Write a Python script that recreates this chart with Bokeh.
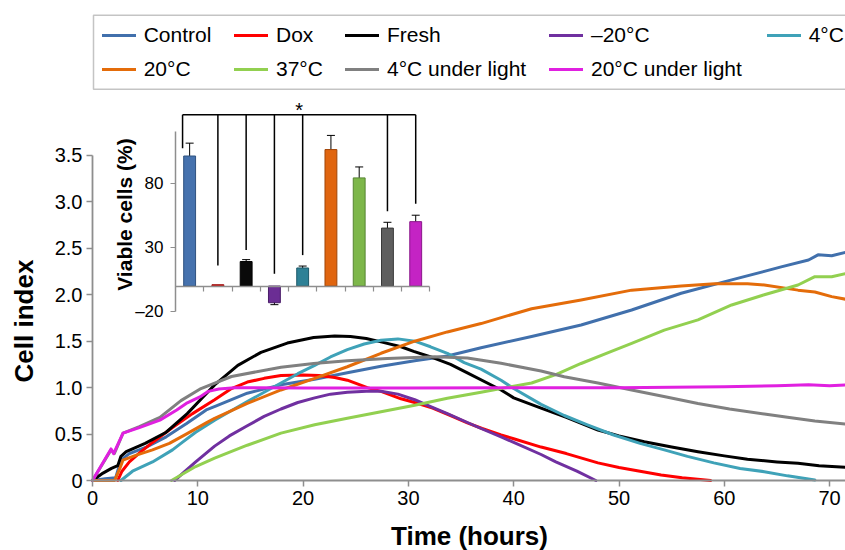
import math
from bokeh.plotting import figure
from bokeh.models import (Range1d, LinearAxis, FixedTicker, Legend, LegendItem, Label,
                          ColumnDataSource, Whisker, TeeHead, CustomJSTickFormatter,
                          BoxAnnotation)
from bokeh.embed import file_html
from bokeh.resources import INLINE

# ---------------- data ----------------
x_ticks = [0, 10, 20, 30, 40, 50, 60, 70]
y_ticks = [0, 0.5, 1.0, 1.5, 2.0, 2.5, 3.0, 3.5]

hours_control = [0, 1.2, 2.2, 2.7, 3.5, 5.1, 7.0, 8.9, 10.8, 11.7, 14.7, 17.9, 21.1, 24.2, 27.4, 30.6,
                 33.7, 36.9, 41.7, 46.4, 51.2, 55.9, 60.7, 65.4, 68.0, 68.9, 70.2, 71.6]
control = [0, 0.02, 0.03, 0.22, 0.29, 0.36, 0.47, 0.61, 0.76, 0.80, 0.94, 1.03, 1.09, 1.16, 1.23, 1.29,
           1.34, 1.43, 1.55, 1.675, 1.836, 2.016, 2.16, 2.30, 2.374, 2.43, 2.42, 2.46]

hours_dox = [2.4, 2.8, 3.5, 4.5, 5.7, 7.6, 9.5, 11.6, 13.2, 14.7, 16.3, 17.9, 20.0, 21.5, 23.0, 24.2,
             26.1, 27.4, 29.3, 30.6, 32.3, 34.0, 35.6, 37.0, 38.8, 40.0, 42.6, 45.0, 48.0, 50.0, 52.0,
             54.0, 56.0, 58.7]
dox = [0, 0.1, 0.2, 0.3, 0.41, 0.57, 0.72, 0.87, 0.99, 1.06, 1.10, 1.13, 1.135, 1.13, 1.11, 1.08,
       1.0, 0.96, 0.88, 0.84, 0.78, 0.70, 0.62, 0.56, 0.49, 0.45, 0.36, 0.29, 0.19, 0.14, 0.10,
       0.06, 0.03, 0]

hours_fresh = [0, 1.0, 1.8, 2.4, 2.7, 3.2, 5.0, 7.0, 9.0, 10.5, 11.6, 13.8, 16.0, 18.5, 21.0, 23.0,
               24.5, 26.0, 27.5, 29.3, 30.5, 32.5, 34.0, 35.6, 38.8, 40.0, 42.6, 45.0, 48.0, 50.0,
               52.4, 55.0, 57.5, 60.0, 62.2, 65.0, 67.0, 69.0, 71.6]
fresh = [0, 0.08, 0.13, 0.16, 0.26, 0.31, 0.40, 0.52, 0.72, 0.90, 1.03, 1.24, 1.38, 1.48, 1.54, 1.555,
         1.55, 1.53, 1.49, 1.44, 1.39, 1.316, 1.25, 1.16, 0.975, 0.89, 0.78, 0.68, 0.544, 0.48,
         0.418, 0.36, 0.31, 0.265, 0.228, 0.20, 0.185, 0.16, 0.142]

hours_m20 = [7.8, 9.8, 11.6, 13.0, 14.7, 16.3, 17.9, 19.5, 21.1, 22.6, 24.2, 26.0, 27.4, 29.0, 30.6,
             32.0, 33.7, 35.5, 36.9, 38.8, 40.0, 42.6, 44.0, 46.0, 47.8]
m20 = [0, 0.2, 0.37, 0.48, 0.59, 0.69, 0.77, 0.84, 0.89, 0.93, 0.95, 0.96, 0.96, 0.93, 0.87,
       0.80, 0.72, 0.63, 0.56, 0.47, 0.41, 0.28, 0.2, 0.1, 0]

hours_4c = [2.7, 3.8, 5.7, 7.6, 8.4, 9.8, 11.6, 13.0, 14.7, 16.3, 17.9, 19.5, 21.1, 22.6, 24.2, 25.8,
            27.4, 29.0, 30.6, 32.1, 33.7, 35.3, 36.9, 38.8, 40.0, 42.6, 44.8, 47.0, 49.5, 52.0, 54.3,
            56.5, 59.0, 61.5, 63.8, 66.0, 68.6]
c4 = [0, 0.1, 0.2, 0.33, 0.4, 0.52, 0.65, 0.74, 0.85, 0.95, 1.05, 1.15, 1.24, 1.33, 1.41, 1.47,
      1.51, 1.525, 1.5, 1.44, 1.37, 1.27, 1.2, 1.08, 0.99, 0.82, 0.70, 0.6, 0.49, 0.4, 0.33,
      0.26, 0.19, 0.13, 0.095, 0.05, 0.005]

hours_20c = [0, 2.1, 2.6, 2.9, 4.1, 5.7, 7.3, 8.9, 10.8, 11.6, 14.7, 17.9, 21.1, 24.2, 27.4, 30.6,
             33.7, 36.9, 41.7, 46.4, 51.2, 55.9, 59.1, 62.2, 63.8, 67.0, 68.6, 70.2, 71.6]
c20 = [0, 0, 0.13, 0.22, 0.27, 0.33, 0.40, 0.50, 0.62, 0.67, 0.83, 0.975, 1.10, 1.225, 1.37, 1.50,
       1.60, 1.69, 1.85, 1.944, 2.05, 2.094, 2.12, 2.12, 2.105, 2.05, 2.03, 1.98, 1.95]

hours_37c = [7.5, 9.8, 11.6, 14.7, 17.9, 21.1, 24.2, 27.4, 30.6, 33.7, 36.9, 38.8, 41.7, 44.0, 46.4,
             48.8, 51.2, 54.3, 57.5, 60.7, 63.8, 67.0, 68.6, 70.2, 71.6]
c37 = [0, 0.15, 0.24, 0.38, 0.51, 0.6, 0.67, 0.74, 0.81, 0.885, 0.95, 0.99, 1.05, 1.14, 1.26,
       1.37, 1.477, 1.62, 1.73, 1.89, 2.0, 2.105, 2.195, 2.195, 2.23]

hours_4cl = [0, 1.76, 2.07, 2.9, 4.45, 6.4, 8.4, 10.3, 13.2, 17.9, 21.0, 24.2, 28.0, 32.5, 35.6, 38.8,
             42.6, 44.8, 48.0, 51.2, 54.5, 57.5, 60.5, 63.8, 66.0, 68.6, 71.6]
c4l = [0, 0.33, 0.29, 0.51, 0.58, 0.68, 0.86, 0.99, 1.12, 1.22, 1.26, 1.29, 1.315, 1.333, 1.32, 1.262,
       1.18, 1.118, 1.05, 0.975, 0.90, 0.83, 0.77, 0.716, 0.68, 0.64, 0.608]

hours_20cl = [0, 1.76, 2.0, 2.9, 4.45, 6.4, 8.0, 8.9, 10.2, 11.0, 12.0, 13.5, 20, 30, 40, 50, 60,
              65, 68, 70, 71.6]
c20l = [0, 0.34, 0.29, 0.51, 0.57, 0.65, 0.76, 0.83, 0.9, 0.96, 0.985, 1.0, 0.995, 0.995, 1.0,
        1.0, 1.01, 1.02, 1.03, 1.02, 1.03]

series_names = ["Control", "Dox", "Fresh", "–20°C", "4°C",
                "20°C", "37°C", "4°C under light", "20°C under light"]
series_hours = [hours_control, hours_dox, hours_fresh, hours_m20, hours_4c,
                hours_20c, hours_37c, hours_4cl, hours_20cl]
series_values = [control, dox, fresh, m20, c4, c20, c37, c4l, c20l]
series_colors = ["#4170AC", "#FF0000", "#000000", "#7030A0", "#3FA2B8",
                 "#E46C0A", "#92D050", "#808080", "#E020E0"]
# legend columns (series indices, top row first)
legend_columns = [[0, 5], [1, 6], [2, 7], [3, 8], [4]]

# inset bar chart
viable = [101, 1, 19, -13, 14, 106, 84, 45, 50]
viable_err = [10, 0, 1.5, 1.5, 1.5, 11, 8.5, 4.5, 5]
bar_fill = ["#4672AE", "#E8201C", "#0A0A0A", "#6B2D94", "#2E8196",
            "#E0650F", "#7DB74A", "#5E5E5E", "#C423C4"]
bar_edge = ["#2F527F", "#A01010", "#000000", "#4A1D68", "#1E5A69",
            "#A04508", "#578533", "#3A3A3A", "#8A168A"]
inset_y_ticks = [-20, 30, 80]
sig_bars = [0, 1, 2, 3, 4, 7, 8]
sig_drop_to = [107, 16, 28, 9.5, 24, 58, 64]
sig_level = 133

# ---------------- geometry (canvas pixels) ----------------
W, H = 845, 550
X0_PX, Y0_PX = 92, 480                     # where hour 0 / cell index 0 sit
PX_PER_H = 10.53
PX_PER_CI = 92.86
x_start = -X0_PX / PX_PER_H
x_end = x_start + W / PX_PER_H
y_start = -(H - Y0_PX) / PX_PER_CI
y_end = y_start + H / PX_PER_CI

IN_X0, IN_PX_CAT = 175.0, 28.26            # inset origin / scale
IN_Y0, IN_PX_PCT = 285.5, 1.287
ix_start = -IN_X0 / IN_PX_CAT
ix_end = ix_start + W / IN_PX_CAT
iy_start = -(H - IN_Y0) / IN_PX_PCT
iy_end = iy_start + H / IN_PX_PCT


def hx(px):   # canvas x -> hours
    return (px - X0_PX) / PX_PER_H


def cy(py):   # canvas y -> cell index
    return (Y0_PX - py) / PX_PER_CI


LEG_BOX = (93, 14.7, 88.7)                 # left, top, bottom
LEG_COL_X = [101.7, 234, 345, 549, 766.7]  # glyph start of each legend column
LEG_ROW1, LEG_ITEM_H, LEG_SPACING = 35.3, 24, 10

FONT = "Liberation Sans"
AX_COL = "#8E8E8E"

p = figure(width=W, height=H, x_range=Range1d(x_start, x_end), y_range=Range1d(y_start, y_end),
           output_backend="svg", toolbar_location=None, title=None,
           x_axis_location=None, y_axis_location=None,
           min_border_left=0, min_border_bottom=0, min_border_top=0, min_border_right=0)
p.extra_x_ranges = {"ix": Range1d(ix_start, ix_end)}
p.extra_y_ranges = {"iy": Range1d(iy_start, iy_end)}
p.outline_line_color = None
p.background_fill_color = "white"
p.border_fill_color = "white"
p.xgrid.visible = False
p.ygrid.visible = False
p.grid.visible = False

xa = LinearAxis(fixed_location=0, bounds=(0, x_end), ticker=FixedTicker(ticks=x_ticks))
ya = LinearAxis(fixed_location=0, bounds=(0, 3.5), ticker=FixedTicker(ticks=y_ticks),
                formatter=CustomJSTickFormatter(code="return tick == 0 ? '0' : tick.toFixed(1);"))
for ax in (xa, ya):
    ax.axis_line_color = AX_COL
    ax.axis_line_width = 1.8
    ax.major_tick_line_color = AX_COL
    ax.major_tick_line_width = 1.5
    ax.major_tick_out = 6
    ax.major_tick_in = 0
    ax.minor_tick_line_color = None
    ax.major_label_text_font = FONT
    ax.major_label_text_font_size = "20px"
    ax.major_label_text_color = "black"
    ax.major_label_standoff = 4
p.add_layout(xa, "below")
p.add_layout(ya, "left")

p.add_layout(Label(x=hx(469), y=cy(535), text="Time (hours)", text_align="center",
                   text_baseline="middle", text_font=FONT, text_font_style="bold",
                   text_font_size="26px", text_color="black"))
p.add_layout(Label(x=hx(23), y=cy(320.5), text="Cell index", angle=math.pi / 2,
                   text_align="center", text_baseline="middle", text_font=FONT,
                   text_font_style="bold", text_font_size="26px", text_color="black"))

# main curves
renderers = []
for hrs, vals, col in zip(series_hours, series_values, series_colors):
    r = p.line(hrs, vals, line_color=col, line_width=3, line_join="round", line_cap="round")
    renderers.append(r)

# legend: outer frame + one legend per column
p.add_layout(BoxAnnotation(left=hx(LEG_BOX[0]), right=x_end + 3,
                           top=cy(LEG_BOX[1]), bottom=cy(LEG_BOX[2]),
                           fill_color="white", fill_alpha=1.0,
                           line_color="#3C3C3C", line_width=1.5, level="underlay"))
for col_x, idxs in zip(LEG_COL_X, legend_columns):
    n = len(idxs)
    bottom = LEG_ROW1 - LEG_ITEM_H / 2 + n * LEG_ITEM_H + (n - 1) * LEG_SPACING
    leg = Legend(items=[LegendItem(label=series_names[i], renderers=[renderers[i]]) for i in idxs],
                 location=(col_x, H - bottom), orientation="vertical",
                 label_text_font=FONT, label_text_font_size="21px", label_text_color="black",
                 glyph_width=34, glyph_height=LEG_ITEM_H, label_height=LEG_ITEM_H,
                 label_standoff=8, padding=0, spacing=LEG_SPACING, margin=0,
                 border_line_color=None, background_fill_alpha=0.0)
    p.add_layout(leg)

# ---------------- inset ----------------
BAR_W = 0.42
bx = [i + 0.5 for i in range(len(viable))]
bar_src = ColumnDataSource(dict(x=bx, top=viable, fill=bar_fill, edge=bar_edge))
p.vbar(x="x", top="top", bottom=0, width=BAR_W, fill_color="fill", line_color="edge",
       line_width=1, source=bar_src, x_range_name="ix", y_range_name="iy")

ex = [x for x, e in zip(bx, viable_err) if e > 0]
eu = [v + e for v, e in zip(viable, viable_err) if e > 0]
el = [v - e for v, e in zip(viable, viable_err) if e > 0]
err_src = ColumnDataSource(dict(x=ex, upper=eu, lower=el))
p.add_layout(Whisker(source=err_src, base="x", upper="upper", lower="lower",
                     x_range_name="ix", y_range_name="iy", line_color="black", line_width=1,
                     upper_head=TeeHead(size=8, line_width=1, line_color="black"),
                     lower_head=TeeHead(size=8, line_width=1, line_color="black")))

iya = LinearAxis(x_range_name="ix", y_range_name="iy", fixed_location=0, bounds=(-20, 120),
                 ticker=FixedTicker(ticks=inset_y_ticks), major_label_overrides={-20: "–20"})
ixa = LinearAxis(x_range_name="ix", y_range_name="iy", fixed_location=0, bounds=(0, len(viable)),
                 ticker=FixedTicker(ticks=list(range(1, len(viable) + 1))),
                 major_label_overrides={i: "" for i in range(1, len(viable) + 1)})
for ax in (iya, ixa):
    ax.axis_line_color = AX_COL
    ax.axis_line_width = 1.5
    ax.major_tick_line_color = AX_COL
    ax.major_tick_line_width = 1.2
    ax.major_tick_out = 5
    ax.major_tick_in = 0
    ax.minor_tick_line_color = None
    ax.major_label_text_font = FONT
    ax.major_label_text_font_size = "17px"
    ax.major_label_text_color = "black"
    ax.major_label_standoff = 7
p.add_layout(iya, "left")
p.add_layout(ixa, "below")

p.add_layout(Label(x=(124 - IN_X0) / IN_PX_CAT, y=(IN_Y0 - 214) / IN_PX_PCT, text="Viable cells (%)",
                   x_range_name="ix", y_range_name="iy", angle=math.pi / 2,
                   text_align="center", text_baseline="middle", text_font=FONT,
                   text_font_style="bold", text_font_size="21px", text_color="black"))

# significance bracket
sig_x = [bx[i] for i in sig_bars]
sig_x[0] = bx[sig_bars[0]] - BAR_W / 2 - 0.04
p.segment(x0=[sig_x[0]], y0=[sig_level], x1=[sig_x[-1]], y1=[sig_level],
          line_color="black", line_width=1.5, x_range_name="ix", y_range_name="iy")
p.segment(x0=sig_x, y0=[sig_level] * len(sig_x), x1=sig_x, y1=sig_drop_to,
          line_color="black", line_width=1.5, x_range_name="ix", y_range_name="iy")
p.add_layout(Label(x=(sig_x[0] + sig_x[-1]) / 2, y=sig_level - 4.5, text="*",
                   x_range_name="ix", y_range_name="iy", text_align="center",
                   text_baseline="bottom", text_font=FONT, text_font_size="20px",
                   text_color="black"))

open("out.html", "w").write(file_html(p, INLINE))
